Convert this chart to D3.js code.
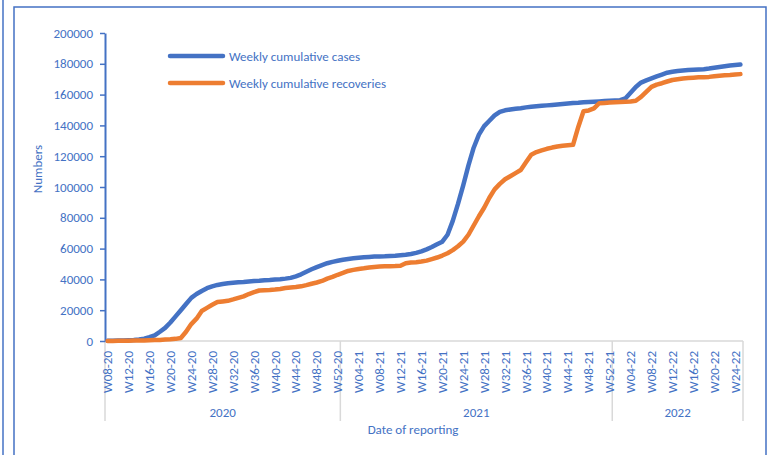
<!DOCTYPE html>
<html>
<head>
<meta charset="utf-8">
<script src="https://cdn.jsdelivr.net/npm/d3@7"></script>
<style>
  body { margin: 0; background: #fff; }
  svg text { font-family: Calibri, Carlito, Lato, sans-serif; }
</style>
</head>
<body>
<div id="chart"></div>
<script>
// week labels, one per reported week
const categories = [
  "W08-20","W09-20","W10-20","W11-20","W12-20","W13-20","W14-20","W15-20","W16-20","W17-20",
  "W18-20","W19-20","W20-20","W21-20","W22-20","W23-20","W24-20","W25-20","W26-20","W27-20",
  "W28-20","W29-20","W30-20","W31-20","W32-20","W33-20","W34-20","W35-20","W36-20","W37-20",
  "W38-20","W39-20","W40-20","W41-20","W42-20","W43-20","W44-20","W45-20","W46-20","W47-20",
  "W48-20","W49-20","W50-20","W51-20","W52-20",
  "W01-21","W02-21","W03-21","W04-21","W05-21","W06-21","W07-21","W08-21","W09-21","W10-21",
  "W11-21","W12-21","W13-21","W14-21","W15-21","W16-21","W17-21","W18-21","W19-21","W20-21",
  "W21-21","W22-21","W23-21","W24-21","W25-21","W26-21","W27-21","W28-21","W29-21","W30-21",
  "W31-21","W32-21","W33-21","W34-21","W35-21","W36-21","W37-21","W38-21","W39-21","W40-21",
  "W41-21","W42-21","W43-21","W44-21","W45-21","W46-21","W47-21","W48-21","W49-21","W50-21",
  "W51-21","W52-21",
  "W01-22","W02-22","W03-22","W04-22","W05-22","W06-22","W07-22","W08-22","W09-22","W10-22",
  "W11-22","W12-22","W13-22","W14-22","W15-22","W16-22","W17-22","W18-22","W19-22","W20-22",
  "W21-22","W22-22","W23-22","W24-22","W25-22"
];

const years = ["2020", "2021", "2022"];
const yearStarts = ["W08-20", "W01-21", "W01-22"];

const yTicks = [0, 20000, 40000, 60000, 80000, 100000, 120000, 140000, 160000, 180000, 200000];

const cases = [
  100, 150, 250, 350, 500, 700, 1000, 1500, 2500, 3700,
  6000, 8500, 12000, 16000, 20000, 24000, 28000, 30500, 32500, 34300,
  35500, 36400, 37000, 37500, 37800, 38100, 38300, 38600, 38900, 39100,
  39400, 39600, 39900, 40100, 40500, 41000, 42000, 43300, 45000, 46600,
  48000, 49300, 50500, 51400, 52100, 52800, 53300, 53700, 54100, 54400,
  54600, 54800, 54900, 55000, 55200, 55400, 55700, 56000, 56500, 57200,
  58200, 59500, 61000, 62800, 64500, 69000, 78000, 89000, 101000, 114000,
  125500, 134000, 139500, 143000, 146500, 148800, 149800, 150300, 150800, 151200,
  151700, 152100, 152400, 152700, 153000, 153300, 153600, 153900, 154200, 154500,
  154700, 155000, 155200, 155400, 155600, 155800, 156000, 156200, 156400, 157500,
  161200, 165000, 167800, 169200, 170500, 171800, 173000, 174200, 174800, 175300,
  175600, 175900, 176100, 176300, 176500, 176900, 177400, 177900, 178400, 178900,
  179200, 179500
];

const recoveries = [
  50, 80, 100, 150, 200, 250, 300, 400, 500, 600,
  700, 900, 1100, 1400, 2000, 6000, 11000, 14500, 19500, 21500,
  23500, 25300, 25700, 26100, 27000, 28000, 29000, 30500, 31700, 32800,
  33000, 33100, 33400, 33800, 34400, 34800, 35000, 35500, 36300, 37200,
  38000, 39000, 40500, 41600, 43000, 44200, 45500, 46200, 46800, 47200,
  47700, 48100, 48300, 48500, 48600, 48700, 48900, 50500, 51000, 51200,
  51600, 52200, 53200, 54200, 55500, 57000, 59000, 61500, 64500, 69000,
  75000, 81000, 86500, 93000, 98500, 102000, 105000, 107000, 109000, 111000,
  116000, 121000, 122700, 123800, 124800, 125600, 126300, 126800, 127100, 127400,
  139000, 149200, 149700, 151000, 154400, 154600, 154800, 155000, 155200, 155400,
  155500, 156000, 158500, 161800, 165000, 166500, 167400, 168500, 169500, 170000,
  170500, 170800, 171000, 171200, 171300, 171500, 171900, 172300, 172500, 172700,
  173000, 173300
];

const seriesNames = ["Weekly cumulative cases", "Weekly cumulative recoveries"];
const colors = ["#4472C4", "#ED7D31"];

const width = 773;
const height = 455;
const margin = { top: 33, right: 30, bottom: 114, left: 105 };
const textBlue = "#4472C4";
const grid = "#D9D9D9";
const fontSize = 13;

const svg = d3.select("#chart")
  .append("svg")
  .attr("width", width)
  .attr("height", height);

// outer frame
svg.append("line")
  .attr("x1", 3).attr("x2", 3).attr("y1", 0).attr("y2", height)
  .attr("stroke", textBlue).attr("stroke-width", 1.5);
svg.append("path")
  .attr("d", `M14,${height} V7 H766 V${height}`)
  .attr("fill", "none")
  .attr("stroke", textBlue).attr("stroke-width", 1.5);

const x = d3.scaleBand()
  .domain(categories)
  .range([margin.left, width - margin.right])
  .paddingInner(0).paddingOuter(0);

const y = d3.scaleLinear()
  .domain([0, 200000])
  .range([height - margin.bottom, margin.top]);

const cx = c => x(c) + x.bandwidth() / 2;
const y0 = y(0);

// category axis baseline
svg.append("line")
  .attr("x1", margin.left).attr("x2", width - margin.right)
  .attr("y1", y0).attr("y2", y0)
  .attr("stroke", grid).attr("stroke-width", 1.5);

// group separators
const seps = yearStarts.map(s => x(s)).concat([width - margin.right]);
svg.append("g")
  .selectAll("line")
  .data(seps)
  .join("line")
  .attr("x1", d => d).attr("x2", d => d)
  .attr("y1", y0).attr("y2", y0 + 80)
  .attr("stroke", grid).attr("stroke-width", 1.5);

// week labels every 4 weeks
svg.append("g")
  .selectAll("text")
  .data(categories.filter((d, i) => i % 4 === 0))
  .join("text")
  .attr("transform", d => `translate(${cx(d)},${y0 + 10}) rotate(-90)`)
  .attr("dy", "0.35em")
  .attr("text-anchor", "end")
  .attr("fill", textBlue)
  .attr("font-size", fontSize)
  .text(d => d);

// year labels
svg.append("g")
  .selectAll("text")
  .data(years)
  .join("text")
  .attr("x", (d, i) => (seps[i] + seps[i + 1]) / 2)
  .attr("y", y0 + 76)
  .attr("text-anchor", "middle")
  .attr("fill", textBlue)
  .attr("font-size", fontSize)
  .text(d => d);

svg.append("text")
  .attr("x", 413)
  .attr("y", 434)
  .attr("text-anchor", "middle")
  .attr("fill", textBlue)
  .attr("font-size", fontSize)
  .text("Date of reporting");

// value axis
const yAxis = svg.append("g")
  .attr("transform", `translate(${margin.left},0)`)
  .call(d3.axisLeft(y).tickValues(yTicks).tickSize(5).tickSizeOuter(0).tickPadding(7).tickFormat(d3.format("d")));
yAxis.select(".domain").attr("stroke", textBlue).attr("stroke-width", 2);
yAxis.selectAll(".tick line").attr("stroke", textBlue).attr("stroke-width", 1.5);
yAxis.selectAll(".tick text")
  .attr("fill", textBlue)
  .attr("font-size", fontSize)
  .attr("font-family", null);

svg.append("text")
  .attr("transform", "translate(37,169) rotate(-90)")
  .attr("dy", "0.35em")
  .attr("text-anchor", "middle")
  .attr("fill", textBlue)
  .attr("font-size", fontSize)
  .text("Numbers");

// series lines
const line = d3.line()
  .x((d, i) => cx(categories[i]))
  .y(d => y(d));

[cases, recoveries].forEach((s, k) => {
  svg.append("path")
    .datum(s)
    .attr("d", line)
    .attr("fill", "none")
    .attr("stroke", colors[k])
    .attr("stroke-width", 4.5)
    .attr("stroke-linejoin", "round")
    .attr("stroke-linecap", "round");
});

// legend
const legend = svg.append("g")
  .selectAll("g")
  .data(seriesNames)
  .join("g")
  .attr("transform", (d, i) => `translate(170,${56 + i * 27})`);
legend.append("line")
  .attr("x1", 0).attr("x2", 53)
  .attr("stroke", (d, i) => colors[i])
  .attr("stroke-width", 4.5)
  .attr("stroke-linecap", "round");
legend.append("text")
  .attr("x", 59)
  .attr("dy", "0.35em")
  .attr("fill", textBlue)
  .attr("font-size", fontSize)
  .text(d => d);
</script>
</body>
</html>
